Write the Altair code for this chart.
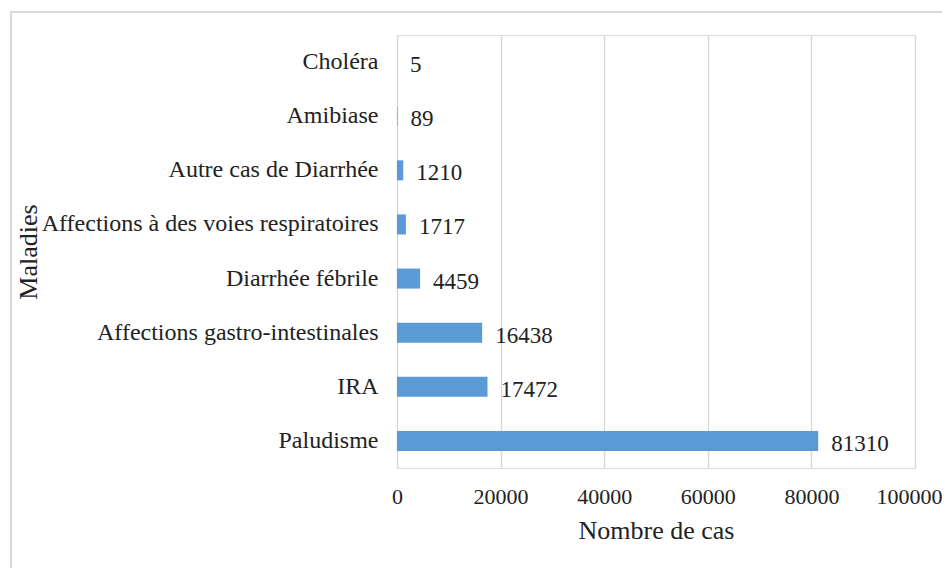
import altair as alt
import pandas as pd

maladies = [
    "Choléra",
    "Amibiase",
    "Autre cas de Diarrhée",
    "Affections à des voies respiratoires",
    "Diarrhée fébrile",
    "Affections gastro-intestinales",
    "IRA",
    "Paludisme",
]
cas = [5, 89, 1210, 1717, 4459, 16438, 17472, 81310]
x_ticks = [0, 20000, 40000, 60000, 80000, 100000]

df = pd.DataFrame({"Maladies": maladies, "Nombre de cas": cas})

FONT = "Liberation Serif"
TXT = "#222222"
W, H = 518, 433

y_enc = alt.Y(
    "Maladies:N",
    sort=maladies,
    scale=alt.Scale(paddingInner=0.63, paddingOuter=0.315),
    axis=alt.Axis(
        title="Maladies",
        domain=False,
        ticks=False,
        labelPadding=19,
        labelFont=FONT,
        labelFontSize=24,
        labelColor=TXT,
        labelLimit=500,
        titleFont=FONT,
        titleFontSize=26,
        titleFontWeight="normal",
        titleColor=TXT,
        titleAngle=-90,
        titleX=-369,
        titleY=H / 2,
        titleAlign="center",
        titleBaseline="middle",
    ),
)

x_enc = alt.X(
    "Nombre de cas:Q",
    scale=alt.Scale(domain=[0, 100000], nice=False),
    axis=alt.Axis(
        title="Nombre de cas",
        values=x_ticks,
        format="d",
        domain=False,
        ticks=False,
        grid=True,
        gridColor="#d9d9d9",
        gridWidth=1.5,
        labelPadding=18,
        labelFont=FONT,
        labelFontSize=22,
        labelColor=TXT,
        labelFlush=False,
        labelOffset=alt.condition("datum.value == 100000", alt.value(-6), alt.value(0)),
        titleFont=FONT,
        titleFontSize=26,
        titleFontWeight="normal",
        titleColor=TXT,
        titleX=W / 2,
        titleY=62,
        titleBaseline="middle",
    ),
)

frame = alt.Chart(df).mark_rect(
    fill=None, stroke="#d9d9d9", strokeWidth=2
).encode(
    x=alt.value(-386), x2=alt.value(1200),
    y=alt.value(-23), y2=alt.value(1200),
)

bars = alt.Chart(df).mark_bar(color="#5b9bd5").encode(x=x_enc, y=y_enc)

labels = alt.Chart(df).mark_text(
    align="left", baseline="middle", dx=13, dy=3,
    font=FONT, fontSize=23, color=TXT,
).encode(
    x="Nombre de cas:Q",
    y=alt.Y("Maladies:N", sort=maladies),
    text="Nombre de cas:Q",
)

chart = alt.layer(bars, labels, frame).properties(
    width=W,
    height=H,
    autosize=alt.AutoSizeParams(type="none"),
    padding={"left": 389, "top": 27, "right": 27, "bottom": 100},
).configure_view(stroke=None).configure(background="white")

chart.save("out.html", embed_options={"renderer": "svg", "actions": False})
